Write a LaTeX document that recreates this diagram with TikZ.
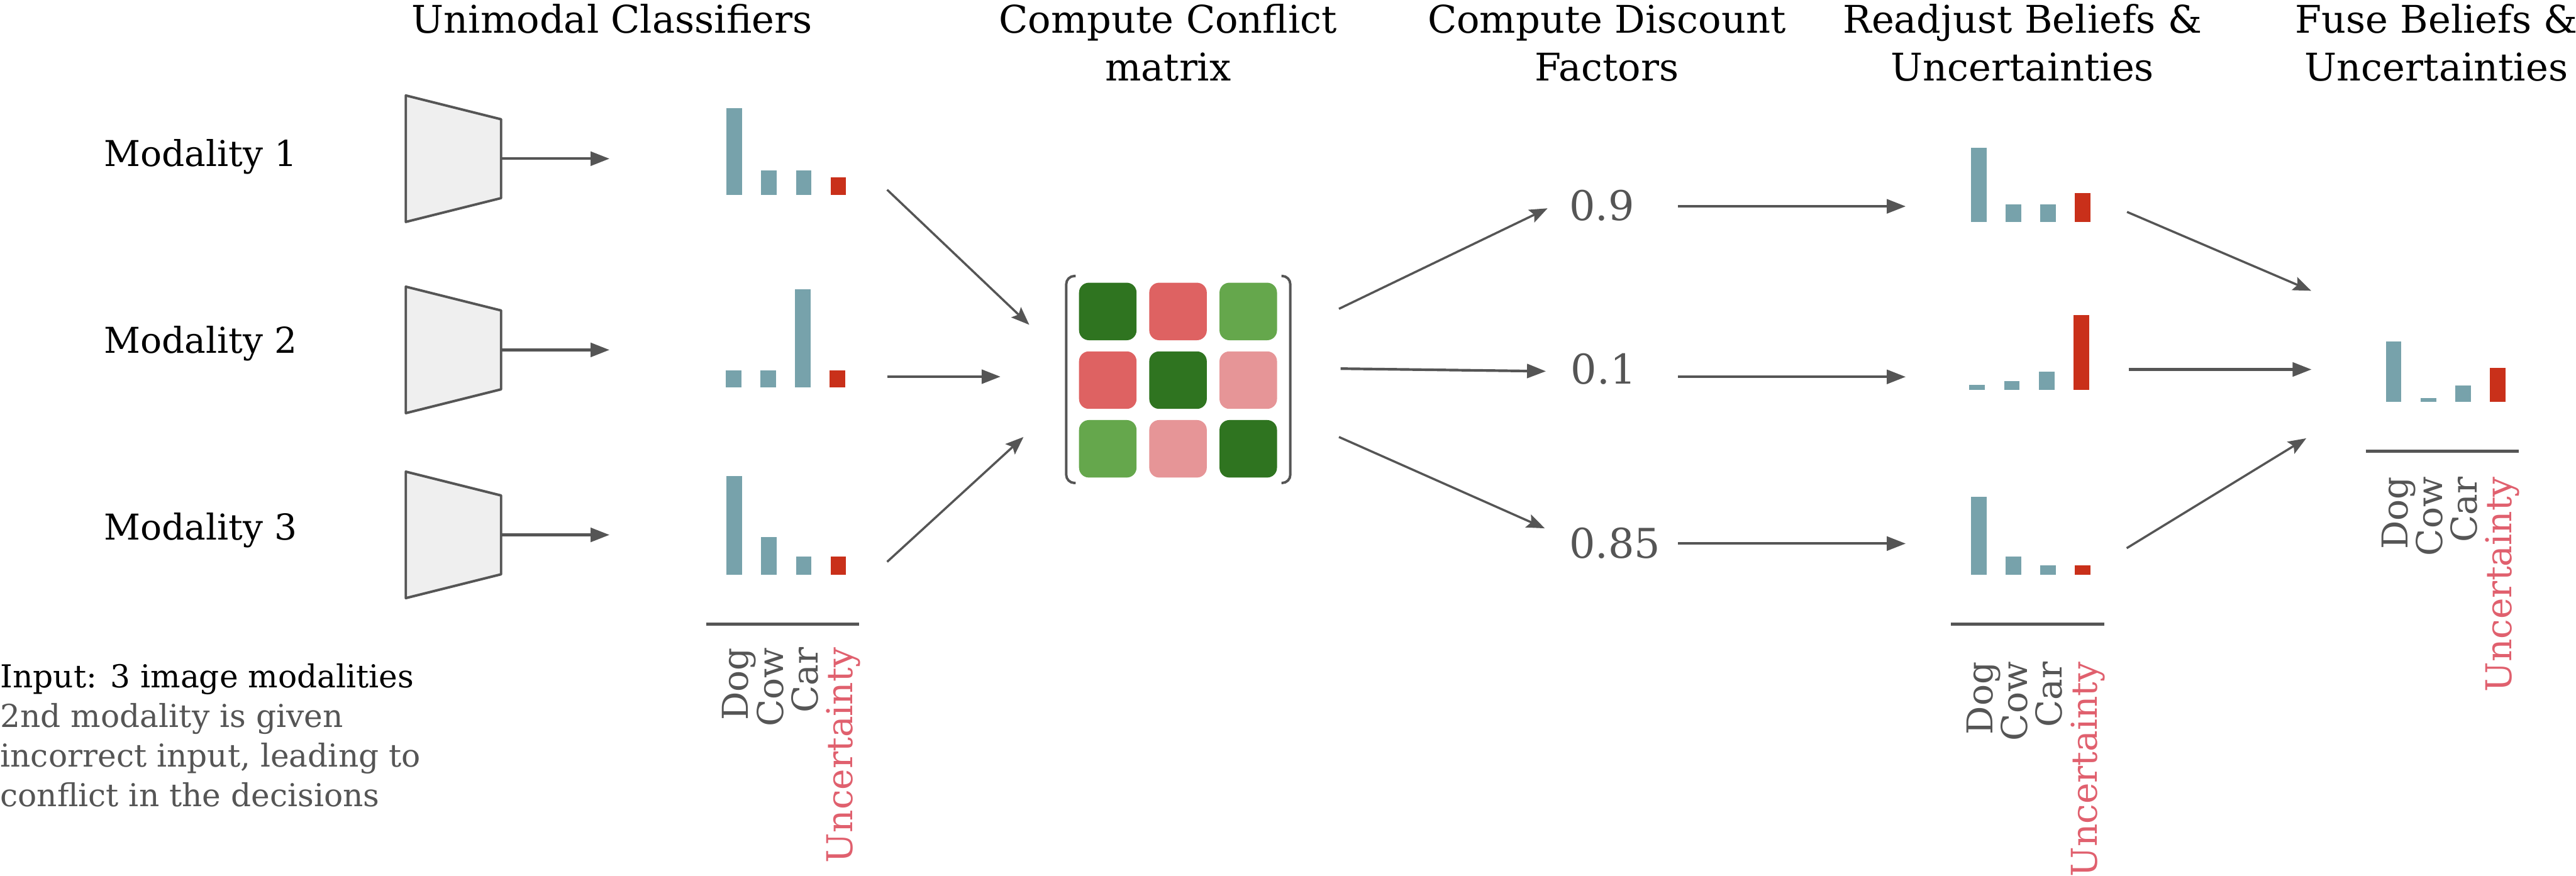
\documentclass[tikz,border=0pt]{standalone}
\usepackage{fontspec}
\setmainfont{DejaVu Serif}
\usetikzlibrary{arrows.meta,calc}
\definecolor{linegray}{HTML}{555555}
\definecolor{encfill}{HTML}{EFEFEF}
\definecolor{beliefbar}{HTML}{77A2AB}
\definecolor{doubtbar}{HTML}{C9301A}
\definecolor{doubttext}{HTML}{E0606E}
\definecolor{agreedark}{HTML}{2F7420}
\definecolor{agreelight}{HTML}{65A74C}
\definecolor{conflictdark}{HTML}{DE6262}
\definecolor{conflictlight}{HTML}{E69597}
\tikzset{
  heading/.style={
    font=\fontsize{19.8}{24.7}\selectfont,
    align=center,
    inner sep = 0,
    anchor=base
  },
  modality/.style={
    font=\fontsize{18.5}{22}\selectfont,
    inner sep = 0,
    anchor=base west
  },
  note/.style={
    font=\fontsize{16.4}{20.5}\selectfont,
    align=left,
    inner sep = 0,
    anchor=base west
  },
  factor/.style={
    font=\fontsize{21.3}{25}\selectfont,
    text=linegray,
    inner sep = 0,
    anchor=base west
  },
  classlabel/.style={
    font=\fontsize{18.5}{22}\selectfont,
    rotate=90,
    inner sep = 0,
    anchor=base east
  },
  encoder/.style={
    draw=linegray,
    fill=encfill,
    line width=0.045cm,
    line join=round
  },
  cell/.style={
    inner sep = 0,
    minimum size=1.05cm,
    rounded corners=0.18cm
  },
  bracket/.style={
    draw=linegray,
    line width=0.045cm,
    rounded corners=0.15cm
  },
  axisline/.style={
    draw=linegray,
    line width=0.063cm
  },
  flow/.style={
    draw=linegray,
    line width=0.048cm,
    -{Triangle[length=0.345cm,width=0.255cm]}
  },
  link/.style={
    draw=linegray,
    line width=0.04cm,
    -{Stealth[length=0.33cm,width=0.255cm,inset=0.06cm]}
  }
}
\newcommand{\beliefbars}[5]{%
  \foreach \h [count=\k from 0] in {#2,#3,#4}{
    \fill[beliefbar] ($(#1)+(21.1*\k-4.75,0)$) rectangle ++(9.5,-\h);
  }
  \fill[doubtbar] ($(#1)+(63.3-4.75,0)$) rectangle ++(9.5,-#5);
}
\newcommand{\classlabels}[3]{%
  \foreach \lab/\col [count=\k from 0] in {Dog/linegray,Cow/linegray,Car/linegray,Uncertainty/doubttext}{
    \node[classlabel,text=\col] (#1-\k) at (#2+21.1*\k,#3) {\lab};
  }
}
\begin{document}
\begin{tikzpicture}[x=0.03cm,y=-0.03cm]
            \useasboundingbox (0,0) rectangle (1568,533);
            \node[heading] (h1) at (372.5,20) {Unimodal Classifiers};
            \node[heading] (h2) at (711,49) {Compute Conflict\\matrix};
            \node[heading] (h3) at (978,49) {Compute Discount\\Factors};
            \node[heading] (h4) at (1231,49) {Readjust Beliefs \&\\Uncertainties};
            \node[heading] (h5) at (1483,49) {Fuse Beliefs \&\\Uncertainties};
            \foreach \y/\b [count=\i] in {96.6/101.3,213/215,325.6/328.5}{
                    \node[modality] (mod\i) at (63,\b) {Modality \i};
                    \draw[encoder] (247,\y-38.5) -- ++(58,14.5) -- ++(0,48) -- ++(-58,14.5) -- cycle;
                    \coordinate (enc\i) at (305,\y);
                    \coordinate (uni\i) at (371,\y);
                    \draw[flow] (enc\i) -- (uni\i);
                }
            \node[note] (input) at (0,490.8) {Input: 3 image modalities\\
                \textcolor{linegray}{2nd modality is given}\\
                \textcolor{linegray}{incorrect input, leading to}\\
                \textcolor{linegray}{conflict in the decisions}};
            \coordinate (ub1) at (447,118.7);
            \coordinate (ub2) at (446.5,236);
            \coordinate (ub3) at (447,349.8);
            \beliefbars{ub1}{52.7}{15}{15}{10.7}
            \beliefbars{ub2}{10.5}{10.5}{60}{10.5}
            \beliefbars{ub3}{60}{22.7}{11}{11}
            \draw[axisline] (430,380) -- ++(93,0);
            \classlabels{ul}{455.5}{394}
            \foreach \col [count=\k from 0] in {agreedark,conflictdark,agreelight,conflictdark,agreedark,conflictlight,agreelight,conflictlight,agreedark}{
                    \pgfmathtruncatemacro{\mr}{\k/3}
                    \pgfmathtruncatemacro{\mc}{mod(\k,3)}
                    \node[cell,fill=\col] (cell\mr\mc) at (674.3+42.75*\mc,189.6+41.8*\mr) {};
                }
            \draw[bracket] (654.7,168) -| (649,294) -- (654.7,294);
            \draw[bracket] (780,168) -| (785.4,294) -- (780,294);
            \coordinate (uo1) at (540,115.5);
            \coordinate (uo2) at (540,229.3);
            \coordinate (uo3) at (540,342);
            \coordinate (ci1) at (626.5,197.7);
            \coordinate (ci2) at (609,229.3);
            \coordinate (ci3) at (623,266);
            \draw[link] (uo1) -- (ci1);
            \draw[flow] (uo2) -- (ci2);
            \draw[link] (uo3) -- (ci3);
            \node[factor] (f1) at (955,134) {0.9};
            \node[factor] (f2) at (956,233.6) {0.1};
            \node[factor] (f3) at (955,339.7) {0.85};
            \coordinate (co1) at (815,188);
            \coordinate (co2) at (816,224.4);
            \coordinate (co3) at (815,266);
            \coordinate (fi1) at (942,126.8);
            \coordinate (fi2) at (941,226);
            \coordinate (fi3) at (940.3,321.6);
            \draw[link] (co1) -- (fi1);
            \draw[flow] (co2) -- (fi2);
            \draw[link] (co3) -- (fi3);
            \foreach \y [count=\i] in {125.6,229.4,330.9}{
                    \coordinate (fo\i) at (1021.5,\y);
                    \coordinate (ri\i) at (1160,\y);
                    \draw[flow] (fo\i) -- (ri\i);
                }
            \coordinate (rb1) at (1204.5,135);
            \coordinate (rb2) at (1203.5,237.4);
            \coordinate (rb3) at (1204.5,349.9);
            \beliefbars{rb1}{45}{10.7}{10.7}{17.3}
            \beliefbars{rb2}{3}{5.5}{11}{45.6}
            \beliefbars{rb3}{47.4}{11}{5.7}{5.7}
            \draw[axisline] (1187.5,380) -- ++(93.2,0);
            \classlabels{rl}{1213}{402.6}
            \coordinate (ro1) at (1294.7,129);
            \coordinate (ro2) at (1295.7,224.9);
            \coordinate (ro3) at (1294.5,333.7);
            \coordinate (fu1) at (1406.8,177);
            \coordinate (fu2) at (1407,224.9);
            \coordinate (fu3) at (1403.8,266.8);
            \draw[link] (ro1) -- (fu1);
            \draw[flow] (ro2) -- (fu2);
            \draw[link] (ro3) -- (fu3);
            \coordinate (fb) at (1457,244.8);
            \beliefbars{fb}{37}{2.5}{10}{21}
            \draw[axisline] (1440,274.7) -- ++(93,0);
            \classlabels{fl}{1465.5}{290}
\end{tikzpicture}
\end{document}
